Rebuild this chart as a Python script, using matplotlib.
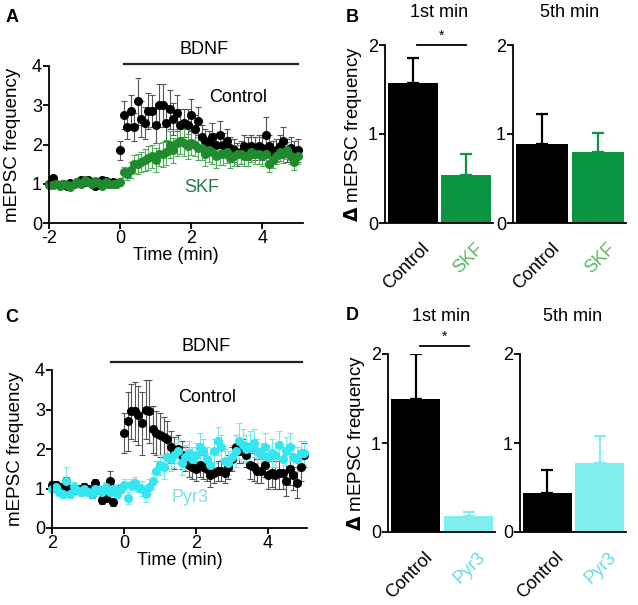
import numpy as np
import matplotlib
matplotlib.use("Agg")
import matplotlib.pyplot as plt

plt.rcParams['font.family'] = ['Liberation Sans', 'DejaVu Sans']
plt.rcParams['font.size'] = 12
plt.rcParams['axes.unicode_minus'] = False

# time axis, 0.1 min bins from -2 to 5 min
t = np.round(np.arange(-20, 51) / 10.0, 1)

# panel A : control vs SKF
ctrl_a = [1.0, 1.15, 1.0, 0.98, 1.0, 0.95, 1.02, 1.0, 1.05, 1.1,
          1.05, 1.1, 1.0, 0.93, 1.05, 1.1, 1.08, 1.0, 1.05, 1.0,
          1.85, 2.75, 2.45, 2.85, 2.45, 3.1, 2.65, 2.55, 2.85, 2.85,
          2.5, 3.0, 3.0, 2.55, 2.9, 2.65, 2.8, 2.5, 2.55, 2.5,
          2.75, 2.4, 2.6, 2.2, 2.1, 2.05, 2.2, 2.0, 2.25, 2.0,
          2.1, 1.9, 1.85, 1.75, 1.8, 1.95, 1.9, 1.95, 1.9, 1.95,
          1.9, 2.25, 1.95, 1.8, 1.85, 1.95, 2.1, 1.85, 1.9, 1.8,
          1.85]
ctrl_a_err = [0.06, 0.07, 0.06, 0.05, 0.06, 0.06, 0.07, 0.06, 0.07, 0.06,
              0.07, 0.08, 0.07, 0.06, 0.07, 0.08, 0.07, 0.06, 0.07, 0.06,
              0.25, 0.35, 0.3, 0.4, 0.35, 0.6, 0.45, 0.4, 0.45, 0.4,
              0.45, 0.55, 0.55, 0.45, 0.5, 0.4, 0.45, 0.4, 0.35, 0.4,
              0.4, 0.35, 0.35, 0.3, 0.3, 0.3, 0.35, 0.3, 0.35, 0.3,
              0.3, 0.3, 0.3, 0.3, 0.3, 0.3, 0.3, 0.3, 0.3, 0.3,
              0.3, 0.45, 0.3, 0.3, 0.3, 0.3, 0.35, 0.3, 0.3, 0.3,
              0.3]
skf_a = [0.98, 0.97, 1.0, 0.95, 1.0, 0.97, 0.92, 1.0, 1.05, 1.0,
         1.1, 1.05, 1.0, 1.08, 1.02, 0.95, 1.05, 1.0, 1.0, 1.0,
         1.05, 1.3, 1.25, 1.35, 1.5, 1.5, 1.55, 1.6, 1.65, 1.7,
         1.6, 1.75, 1.75, 1.8, 2.0, 1.85, 2.05, 2.1, 2.05, 1.95,
         2.05, 2.0, 1.9, 1.9, 1.75, 1.85, 1.8, 1.7, 1.75, 1.75,
         1.8, 1.65, 1.7, 1.75, 1.75, 1.7, 1.7, 1.8, 1.75, 1.75,
         1.7, 1.75, 1.5, 1.6, 1.7, 1.8, 1.75, 1.85, 1.7, 1.55,
         1.7]
skf_a_err = [0.06, 0.06, 0.05, 0.06, 0.06, 0.05, 0.06, 0.06, 0.07, 0.06,
             0.07, 0.06, 0.06, 0.07, 0.06, 0.06, 0.07, 0.06, 0.06, 0.06,
             0.1, 0.12, 0.15, 0.2, 0.22, 0.25, 0.25, 0.28, 0.3, 0.3,
             0.3, 0.3, 0.32, 0.32, 0.35, 0.32, 0.35, 0.35, 0.35, 0.32,
             0.32, 0.3, 0.3, 0.3, 0.3, 0.3, 0.3, 0.3, 0.28, 0.28,
             0.28, 0.25, 0.25, 0.25, 0.25, 0.25, 0.25, 0.25, 0.25, 0.25,
             0.25, 0.25, 0.2, 0.2, 0.2, 0.22, 0.22, 0.22, 0.2, 0.2,
             0.2]

# panel C : control vs Pyr3
ctrl_c = [1.1, 1.1, 1.05, 1.0, 1.2, 1.0, 0.95, 1.0, 0.95, 1.05,
          1.0, 0.85, 1.15, 0.95, 0.7, 0.75, 1.2, 0.65, 0.9, 1.0,
          2.4, 2.7, 2.95, 2.95, 2.85, 2.65, 3.0, 2.95, 2.5, 2.4,
          2.35, 2.3, 2.25, 2.05, 1.9, 2.0, 1.85, 1.75, 1.6, 1.55,
          1.5, 1.6, 1.55, 1.5, 1.35, 1.4, 1.45, 1.45, 1.4, 1.55,
          1.75, 2.05, 1.95, 1.95, 1.85, 1.6, 1.55, 1.45, 1.45, 1.6,
          1.35, 1.4, 1.35, 1.4, 1.4, 1.2, 1.5, 1.35, 1.15, 1.55,
          1.85]
ctrl_c_err = [0.1, 0.1, 0.08, 0.1, 0.1, 0.1, 0.08, 0.1, 0.1, 0.1,
              0.1, 0.1, 0.1, 0.1, 0.1, 0.1, 0.25, 0.1, 0.1, 0.1,
              0.5, 0.75, 0.7, 0.75, 0.75, 0.8, 0.75, 0.8, 0.6, 0.55,
              0.55, 0.5, 0.45, 0.4, 0.4, 0.35, 0.35, 0.3, 0.3, 0.3,
              0.3, 0.3, 0.3, 0.3, 0.3, 0.25, 0.25, 0.25, 0.25, 0.3,
              0.3, 0.3, 0.3, 0.3, 0.3, 0.35, 0.35, 0.3, 0.3, 0.3,
              0.35, 0.35, 0.35, 0.4, 0.4, 0.4, 0.4, 0.4, 0.4, 0.35,
              0.3]
pyr_c = [1.0, 1.05, 0.9, 0.85, 1.2, 0.85, 1.05, 0.95, 0.9, 1.0,
         0.9, 0.85, 1.0, 0.95, 0.9, 1.05, 0.9, 1.0, 0.85, 1.0,
         1.1, 0.75, 1.1, 1.15, 1.05, 1.0, 0.85, 1.05, 1.2, 1.45,
         1.6, 1.55, 1.8, 1.75, 1.85, 1.95, 1.65, 1.8, 1.9, 1.75,
         1.85, 2.05, 1.95, 1.75, 1.6, 1.95, 2.2, 2.05, 1.7, 1.65,
         1.8, 1.95, 2.2, 2.1, 2.0, 2.05, 2.15, 1.95, 1.85, 2.05,
         1.8, 1.9, 1.85, 2.1, 1.75, 1.95, 2.05, 1.8, 1.75, 1.9,
         1.9]
pyr_c_err = [0.1, 0.12, 0.1, 0.1, 0.35, 0.1, 0.12, 0.1, 0.1, 0.12,
             0.1, 0.1, 0.12, 0.1, 0.12, 0.12, 0.1, 0.12, 0.1, 0.12,
             0.15, 0.15, 0.15, 0.15, 0.15, 0.2, 0.2, 0.2, 0.2, 0.25,
             0.25, 0.3, 0.3, 0.3, 0.3, 0.3, 0.3, 0.3, 0.3, 0.3,
             0.3, 0.35, 0.3, 0.3, 0.3, 0.3, 0.35, 0.3, 0.3, 0.3,
             0.3, 0.4, 0.45, 0.4, 0.35, 0.4, 0.35, 0.3, 0.3, 0.35,
             0.3, 0.35, 0.3, 0.35, 0.3, 0.35, 0.35, 0.3, 0.3, 0.3,
             0.3]

# bar panels
groups_b = ["Control", "SKF"]
b_1st = [1.57, 0.54]
b_1st_err = [0.28, 0.24]
b_5th = [0.89, 0.80]
b_5th_err = [0.34, 0.21]

groups_d = ["Control", "Pyr3"]
d_1st = [1.49, 0.18]
d_1st_err = [0.51, 0.05]
d_5th = [0.44, 0.78]
d_5th_err = [0.26, 0.30]

W, H = 638, 605
fig = plt.figure(figsize=(W / 100, H / 100), dpi=100)
FS = 13


def px_axes(left, top, right, bottom):
    return fig.add_axes([left / W, 1 - bottom / H, (right - left) / W, (bottom - top) / H])


def style(ax):
    ax.spines['top'].set_visible(False)
    ax.spines['right'].set_visible(False)
    ax.spines['left'].set_linewidth(1.3)
    ax.spines['bottom'].set_linewidth(1.3)
    ax.tick_params(width=1.3, length=4, labelsize=FS, pad=1)


def time_panel(ax, ctrl, ctrl_err, drug, drug_err, drug_col, drug_ecol, xmax):
    ax.errorbar(t, ctrl, yerr=ctrl_err, fmt='o', color='black', ecolor='#555555',
                elinewidth=0.8, capsize=2, capthick=0.8, markersize=5.5, clip_on=False)
    ax.errorbar(t, drug, yerr=drug_err, fmt='o', color=drug_col, ecolor=drug_ecol,
                elinewidth=0.8, capsize=2, capthick=0.8, markersize=5.5, clip_on=False)
    ax.set_xlim(-2, xmax)
    ax.set_ylim(0, 4)
    ax.set_yticks([0, 1, 2, 3, 4])
    ax.set_xticks([-2, 0, 2, 4])
    ax.set_ylabel("mEPSC frequency", fontsize=FS + 0.5)
    ax.yaxis.set_label_coords(-0.11, 0.5)
    ax.set_xlabel("Time (min)", fontsize=FS, labelpad=0)
    style(ax)


def bar_panel(ax, labels, vals, errs, cols, lab_cols, ylabel=False):
    x = np.arange(len(vals))
    for i in range(len(vals)):
        ax.bar(x[i], vals[i], width=0.94, color=cols[i])
        ax.errorbar(x[i], vals[i], yerr=[[0], [errs[i]]], color=cols[i],
                    elinewidth=1.6, capsize=4.5, capthick=1.6)
    ax.set_xlim(-0.52, 1.5)
    ax.set_ylim(0, 2)
    ax.set_yticks([0, 1, 2])
    ax.set_xticks(x + 0.15)
    ax.set_xticklabels(labels, rotation=45, ha='right', rotation_mode='anchor', fontsize=FS)
    for lab, c in zip(ax.get_xticklabels(), lab_cols):
        lab.set_color(c)
    style(ax)
    ax.tick_params(axis='x', length=0, pad=12)
    if ylabel:
        ax.set_ylabel(r"$\mathbf{\Delta}$ mEPSC frequency", fontsize=FS + 0.5, labelpad=3)


# ---- panel A
axA = px_axes(49, 66, 303, 223)
time_panel(axA, ctrl_a, ctrl_a_err, skf_a, skf_a_err, '#1f8a2e', '#4fae55', 5.15)
axA.plot([0.1, 5.0], [4.04, 4.04], color='#222222', lw=1.6, clip_on=False)
axA.text(2.37, 4.2, "BDNF", ha='center', va='bottom', fontsize=FS)
axA.text(2.5, 3.2, "Control", ha='left', va='center', fontsize=FS)
axA.text(1.8, 0.9, "SKF", ha='left', va='center', fontsize=FS, color='#2a7a4a')

# ---- panel C
axC = px_axes(52, 370, 307, 528)
time_panel(axC, ctrl_c, ctrl_c_err, pyr_c, pyr_c_err, '#33e6f0', '#66eef2', 5.08)
axC.set_xticklabels(["2", "0", "2", "4"])
axC.plot([-0.35, 4.95], [4.2, 4.2], color='#222222', lw=1.6, clip_on=False)
axC.text(2.28, 4.38, "BDNF", ha='center', va='bottom', fontsize=FS)
axC.text(1.5, 3.3, "Control", ha='left', va='center', fontsize=FS)
axC.text(1.33, 0.76, "Pyr3", ha='left', va='center', fontsize=FS, color='#80e0e0')

# ---- panel B
green_bar = '#0a9640'
green_lab = '#5cb85c'
axB1 = px_axes(385, 45, 493, 223)
bar_panel(axB1, groups_b, b_1st, b_1st_err, ['black', green_bar], ['black', green_lab], ylabel=True)
axB1.plot([0.08, 1.0], [2.0, 2.0], color='black', lw=1.3, clip_on=False)
axB1.text(0.54, 2.02, "*", ha='center', va='bottom', fontsize=10)
axB1.set_title("1st min", fontsize=FS, pad=20)
axB2 = px_axes(513, 45, 626, 223)
bar_panel(axB2, groups_b, b_5th, b_5th_err, ['black', green_bar], ['black', green_lab])
axB2.set_title("5th min", fontsize=FS, pad=20)

# ---- panel D
cyan_bar = '#80eeee'
cyan_lab = '#66dddd'
axD1 = px_axes(388, 354, 495, 532)
bar_panel(axD1, groups_d, d_1st, d_1st_err, ['black', cyan_bar], ['black', cyan_lab], ylabel=True)
axD1.plot([0.08, 1.0], [2.09, 2.09], color='black', lw=1.3, clip_on=False)
axD1.text(0.54, 2.11, "*", ha='center', va='bottom', fontsize=10)
axD1.set_title("1st min", fontsize=FS, pad=24)
axD2 = px_axes(520, 354, 626, 532)
bar_panel(axD2, groups_d, d_5th, d_5th_err, ['black', cyan_bar], ['black', cyan_lab])
axD2.set_title("5th min", fontsize=FS, pad=24)

# panel letters
for letter, x, y in [("A", 12, 18), ("B", 352, 18), ("C", 12, 318), ("D", 352, 315)]:
    fig.text(x / W, 1 - y / H, letter, fontsize=13, fontweight='bold', ha='center', va='center')

fig.savefig("out.png", dpi=100)
